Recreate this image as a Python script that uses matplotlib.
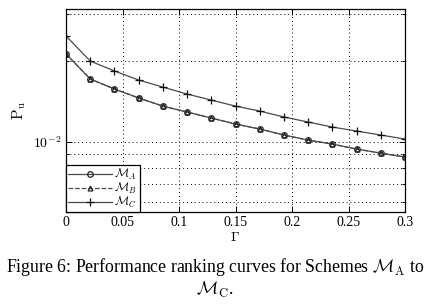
import numpy as np
import matplotlib
matplotlib.use('Agg')
import matplotlib.pyplot as plt
from matplotlib.ticker import LogLocator, NullFormatter, FixedLocator

# 数据
gamma = [0, 0.0214, 0.0429, 0.0643, 0.0857, 0.1071, 0.1286, 0.15,
         0.1714, 0.1929, 0.2143, 0.2357, 0.2571, 0.2786, 0.3]
pu_a = [0.02125, 0.01715, 0.01574, 0.01458, 0.0136, 0.01293, 0.01228, 0.01167,
        0.01118, 0.01062, 0.01017, 0.00983, 0.00942, 0.0091, 0.0088]
pu_b = [0.02125, 0.01715, 0.01574, 0.01458, 0.0136, 0.01293, 0.01228, 0.01167,
        0.01118, 0.01062, 0.01017, 0.00983, 0.00942, 0.0091, 0.0088]
pu_c = [0.02478, 0.0200, 0.01836, 0.0170, 0.0160, 0.01508, 0.01432, 0.0136,
        0.01304, 0.01239, 0.01187, 0.01137, 0.01099, 0.01062, 0.01026]
xticks = [0, 0.05, 0.1, 0.15, 0.2, 0.25, 0.3]
xticklabels = ['0', '0.05', '0.1', '0.15', '0.2', '0.25', '0.3']

plt.rcParams['font.family'] = ['Liberation Serif', 'DejaVu Serif']
plt.rcParams['mathtext.fontset'] = 'cm'

fig = plt.figure(figsize=(4.3, 3.05), dpi=100)
ax = fig.add_axes([0.1535, 0.3049, 0.7884, 0.6656])

lc = '#4a4a4a'
ax.plot(gamma, pu_a, '-', color=lc, lw=0.9, marker='o', ms=4, mfc='none',
        mec='#222222', mew=0.9, label=r'$\mathcal{M}_A$')
ax.plot(gamma, pu_b, '--', color=lc, lw=0.9, marker='^', ms=3.5, mfc='none',
        mec='#222222', mew=0.9, label=r'$\mathcal{M}_B$')
ax.plot(gamma, pu_c, '-', color=lc, lw=0.9, marker='+', ms=6,
        mec='#111111', mew=0.9, label=r'$\mathcal{M}_C$')

ax.set_yscale('log')
ax.set_xlim(0, 0.3)
ax.set_ylim(0.0055, 0.0312)
ax.set_xticks(xticks)
ax.set_xticklabels(xticklabels)
ax.yaxis.set_major_locator(FixedLocator([0.01]))
ax.yaxis.set_minor_locator(LogLocator(base=10, subs=np.arange(2, 10)))
ax.yaxis.set_minor_formatter(NullFormatter())
ax.set_yticklabels([r'$10^{-2}$'])

ax.tick_params(which='both', direction='in', top=True, right=True,
               labelsize=10, width=0.7)
ax.tick_params(which='major', length=4, pad=3)
ax.tick_params(which='minor', length=2)
ax.grid(True, which='major', axis='x', ls=(0, (1, 3)), color='k', lw=0.7)
ax.grid(True, which='both', axis='y', ls=(0, (1, 3)), color='k', lw=0.7)
for s in ax.spines.values():
    s.set_linewidth(0.9)

ax.set_xlabel(r'$\Gamma$', fontsize=10, labelpad=1)
ax.set_ylabel(r'$\mathrm{P}_{\mathrm{u}}$', fontsize=11, labelpad=4)

leg = ax.legend(loc='lower left', fontsize=8.5, handlelength=3.7,
                borderaxespad=0, borderpad=0.2, labelspacing=-0.1,
                handletextpad=0.2, fancybox=False, framealpha=1,
                edgecolor='k')
leg.get_frame().set_linewidth(0.9)

fig.text(0.5, 0.125, r'Figure 6: Performance ranking curves for Schemes $\mathcal{M}_{\mathrm{A}}$ to',
         ha='center', va='center', fontsize=12.8)
fig.text(0.5, 0.05, r'$\mathcal{M}_{\mathrm{C}}$.', ha='center', va='center', fontsize=12.8)

fig.savefig('out.png', dpi=100)
